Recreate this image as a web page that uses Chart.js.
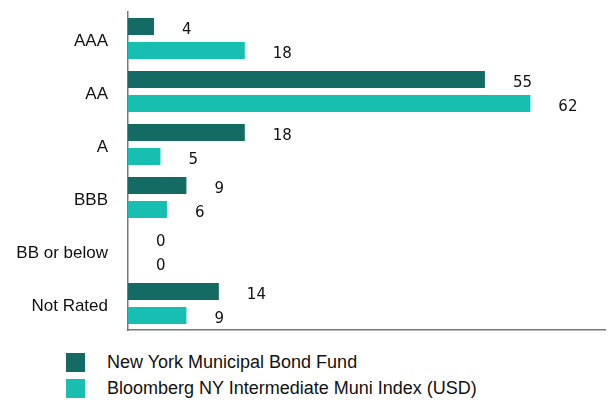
<!DOCTYPE html>
<html>
<head>
<meta charset="utf-8">
<script src="https://cdn.jsdelivr.net/npm/chart.js@4/dist/chart.umd.min.js"></script>
<style>
  html, body { margin: 0; padding: 0; background: #fff; }
  #wrap { position: relative; width: 608px; height: 340px; }
  .legend { position: absolute; left: 66px; font: 18px "Liberation Sans", Arial, sans-serif; color: #111; }
  .legend div { display: flex; align-items: center; height: 26px; }
  .legend span.sw { width: 19px; height: 19px; display: inline-block; margin-right: 22px; }
</style>
</head>
<body>
<div id="wrap"><canvas id="chart" width="608" height="340"></canvas></div>
<div class="legend" style="top:349px">
  <div><span class="sw" style="background:#146b64"></span>New York Municipal Bond Fund</div>
  <div><span class="sw" style="background:#18bfb0"></span>Bloomberg NY Intermediate Muni Index (USD)</div>
</div>
<script>
// chart data
const categories = ['AAA', 'AA', 'A', 'BBB', 'BB or below', 'Not Rated'];
const fundValues = [4, 55, 18, 9, 0, 14];
const indexValues = [18, 62, 5, 6, 0, 9];
const seriesNames = ['New York Municipal Bond Fund', 'Bloomberg NY Intermediate Muni Index (USD)'];

const DARK = '#146b64';
const LIGHT = '#18bfb0';

// draws the value next to each bar end
const valueLabels = {
    id: 'valueLabels',
    afterDatasetsDraw(chart) {
        const ctx = chart.ctx;
        const xScale = chart.scales.x;
        ctx.save();
        ctx.font = '15px "DejaVu Sans", sans-serif';
        ctx.fillStyle = '#111';
        ctx.textAlign = 'left';
        ctx.textBaseline = 'middle';
        chart.data.datasets.forEach((ds, i) => {
            const meta = chart.getDatasetMeta(i);
            meta.data.forEach((bar, j) => {
                const end = xScale.getPixelForValue(ds.data[j]);
                ctx.fillText(String(ds.data[j]), end + 28, bar.y + 4);
            });
        });
        ctx.restore();
    }
};

new Chart(document.getElementById('chart'), {
    type: 'bar',
    data: {
        labels: categories,
        datasets: [
            { label: seriesNames[0], data: fundValues, backgroundColor: DARK },
            { label: seriesNames[1], data: indexValues, backgroundColor: LIGHT }
        ]
    },
    options: {
        indexAxis: 'y',
        responsive: false,
        animation: false,
        categoryPercentage: 0.905,
        barPercentage: 0.71,
        layout: { padding: { top: 12, right: 3, bottom: 10, left: 0 } },
        plugins: {
            legend: { display: false },
            tooltip: { enabled: false }
        },
        scales: {
            x: {
                min: 0,
                max: 73.5,
                grid: { display: false, drawTicks: false },
                ticks: { display: false },
                border: { display: true, color: '#777', width: 1.5 },
                afterFit(scale) { scale.height = 0; }
            },
            y: {
                grid: { display: false, drawTicks: false },
                border: { display: true, color: '#777', width: 1.5 },
                ticks: {
                    padding: 20,
                    labelOffset: 3,
                    color: '#111',
                    font: { family: '"Liberation Sans", Arial, sans-serif', size: 17 }
                },
                afterFit(scale) {
                    scale.width = 128;
                    scale.paddingTop = 0;
                    scale.paddingBottom = 0;
                }
            }
        }
    },
    plugins: [valueLabels]
});
</script>
</body>
</html>
